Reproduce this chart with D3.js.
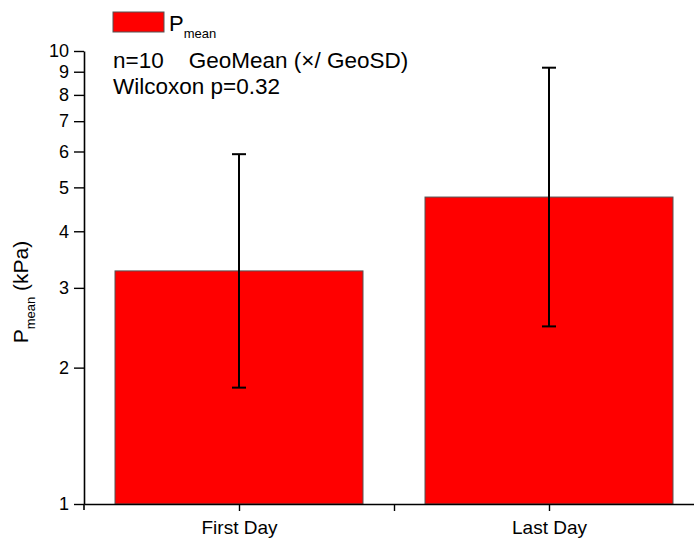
<!DOCTYPE html>
<html>
<head>
<meta charset="utf-8">
<script src="https://cdn.jsdelivr.net/npm/d3@7"></script>
<style>
  body { margin: 0; background: #fff; }
  text { font-family: Arial, "Liberation Sans", sans-serif; fill: #000; }
</style>
</head>
<body>
<svg width="694" height="543"></svg>
<script>
// values
var categories = ["First Day", "Last Day"];
var geoMean = [3.27, 4.76];
var geoSD = [1.81, 1.93];
var yTicks = [1, 2, 3, 4, 5, 6, 7, 8, 9, 10];

var svg = d3.select("svg");

// categories sit at 1 and 2, axis runs from 0.5
var x = d3.scaleLinear().domain([0.5, 2.5]).range([84, 704]);
var y = d3.scaleLog().domain([1, 10]).range([504, 51]);

var data = categories.map(function(c, i) {
  return {name: c, pos: i + 1, gm: geoMean[i], hi: geoMean[i] * geoSD[i], lo: geoMean[i] / geoSD[i]};
});

var barW = 0.8;

svg.selectAll("rect.bar")
  .data(data)
  .enter().append("rect")
    .attr("class", "bar")
    .attr("x", function(d) { return x(d.pos - barW / 2); })
    .attr("width", function(d) { return x(d.pos + barW / 2) - x(d.pos - barW / 2); })
    .attr("y", function(d) { return y(d.gm); })
    .attr("height", function(d) { return y(1) - y(d.gm); })
    .attr("fill", "#ff0000")
    .attr("stroke", "#555")
    .attr("stroke-width", 1);

// error bars
var err = svg.selectAll("g.err")
  .data(data)
  .enter().append("g")
    .attr("class", "err")
    .attr("stroke", "#000")
    .attr("stroke-width", 2);

err.append("line")
    .attr("x1", function(d) { return x(d.pos); })
    .attr("x2", function(d) { return x(d.pos); })
    .attr("y1", function(d) { return y(d.hi); })
    .attr("y2", function(d) { return y(d.lo); });

["hi", "lo"].forEach(function(k) {
  err.append("line")
      .attr("x1", function(d) { return x(d.pos) - 7; })
      .attr("x2", function(d) { return x(d.pos) + 7; })
      .attr("y1", function(d) { return y(d[k]); })
      .attr("y2", function(d) { return y(d[k]); });
});

// axes
var yAxis = d3.axisLeft(y)
    .tickValues(yTicks)
    .tickFormat(d3.format("d"))
    .tickSizeInner(10)
    .tickSizeOuter(0)
    .tickPadding(5);

var gy = svg.append("g")
    .attr("transform", "translate(84,0)")
    .call(yAxis);

var xAxis = d3.axisBottom(x)
    .tickValues([1, 1.5, 2])
    .tickFormat(function(d) { return d === 1 ? categories[0] : d === 2 ? categories[1] : ""; })
    .tickSizeInner(7)
    .tickSizeOuter(0)
    .tickPadding(10);

var gx = svg.append("g")
    .attr("transform", "translate(0,504)")
    .call(xAxis);

[gx, gy].forEach(function(g) {
  g.select(".domain").attr("stroke", "#000").attr("stroke-width", 1.6);
  g.selectAll(".tick line").attr("stroke", "#000").attr("stroke-width", 1.4);
  g.selectAll(".tick text")
      .style("font-family", "Arial, 'Liberation Sans', sans-serif")
      .attr("fill", "#000");
});
gy.selectAll(".tick text").style("font-size", "18px");
gx.selectAll(".tick text").style("font-size", "19px");

// y axis runs a little below the x axis
svg.append("line")
    .attr("x1", 84).attr("x2", 84)
    .attr("y1", 504).attr("y2", 510)
    .attr("stroke", "#000").attr("stroke-width", 1.6);

// y axis title
var yt = svg.append("text")
    .attr("transform", "translate(28,292) rotate(-90)")
    .attr("text-anchor", "middle")
    .style("font-size", "21px");
yt.append("tspan").text("P");
yt.append("tspan").attr("dy", 7).style("font-size", "13px").text("mean");
yt.append("tspan").attr("dy", -7).text(" (kPa)");

// legend
svg.append("rect")
    .attr("x", 113).attr("y", 12)
    .attr("width", 51).attr("height", 20)
    .attr("fill", "#ff0000")
    .attr("stroke", "#555")
    .attr("stroke-width", 1);

var lg = svg.append("text")
    .attr("x", 169).attr("y", 31)
    .style("font-size", "22px");
lg.append("tspan").text("P");
lg.append("tspan").attr("dy", 7).style("font-size", "13px").text("mean");

svg.append("text")
    .attr("x", 113).attr("y", 68)
    .style("font-size", "22.5px")
    .attr("xml:space", "preserve")
    .style("white-space", "pre")
    .text("n=10    GeoMean (\u00d7/ GeoSD)");

svg.append("text")
    .attr("x", 113).attr("y", 94)
    .style("font-size", "22.5px")
    .text("Wilcoxon p=0.32");
</script>
</body>
</html>
